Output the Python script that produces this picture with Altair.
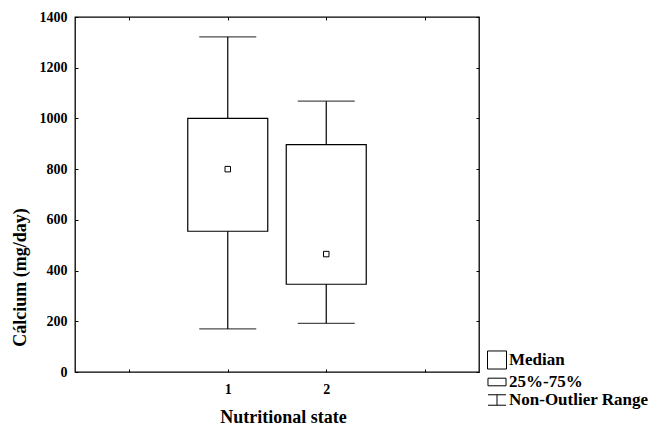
import json
import altair as alt
import pandas as pd

# ---- data ----
states = [1, 2]
whisker_low = [170, 192]
q1 = [555, 346]
median = [800, 465]
q3 = [1000, 897]
whisker_high = [1322, 1068]

legend_items = ["Median", "25%-75%", "Non-Outlier Range"]
y_ticks = [0, 200, 400, 600, 800, 1000, 1200, 1400]
x_ticks = [0, 1, 2, 3]
x_labels = ["1", "2"]

df = pd.DataFrame({
    "state": states,
    "low": whisker_low,
    "q1": q1,
    "median": median,
    "q3": q3,
    "high": whisker_high,
})
leg = pd.DataFrame({"item": legend_items})

FONT = "Liberation Serif"
xscale = alt.Scale(domain=[-0.5, 3.5], nice=False, zero=False)
yscale = alt.Scale(domain=[0, 1400], nice=False, zero=True)

common = dict(domain=False, grid=False, tickSize=3, tickColor="black",
              tickWidth=1, offset=-3)

label_expr = f"indexof({json.dumps(x_labels)}, datum.label) >= 0 ? datum.label : ''"

x_bottom = alt.Axis(values=x_ticks, labelExpr=label_expr, format="d",
                    title="Nutritional state",
                    labelFont=FONT, labelFontSize=14, labelFontWeight="bold",
                    labelColor="black", labelPadding=10, labelAngle=0,
                    titleFont=FONT, titleFontSize=18, titleFontWeight="bold",
                    titleColor="black", titleX=208, titleY=53,
                    titleBaseline="alphabetic", titleAlign="center", **common)
y_left = alt.Axis(values=y_ticks, title="Cálcium (mg/day)", format="d",
                  labelFont=FONT, labelFontSize=14, labelFontWeight="bold",
                  labelColor="black", labelPadding=8,
                  titleFont=FONT, titleFontSize=18, titleFontWeight="bold",
                  titleColor="black", titleAngle=270, titleX=-52.5, titleY=260,
                  titleBaseline="alphabetic", titleAlign="center", **common)
x_top = alt.Axis(orient="top", values=x_ticks, labels=False, title=None, **common)
y_right = alt.Axis(orient="right", values=y_ticks, labels=False, title=None, **common)

base = alt.Chart(df)

whiskers = base.mark_rule(color="black", strokeWidth=1.2).encode(
    x=alt.X("state:Q", scale=xscale, axis=x_top),
    y=alt.Y("low:Q", scale=yscale, axis=y_right),
    y2="high:Q",
)

boxes = base.mark_bar(size=80, fill="white", stroke="black", strokeWidth=1.2).encode(
    x=alt.X("state:Q", scale=xscale, axis=x_bottom),
    y=alt.Y("q1:Q", scale=yscale, axis=y_left),
    y2="q3:Q",
)

caps = base.transform_fold(["low", "high"], as_=["end", "val"]).mark_tick(
    orient="horizontal", size=57, thickness=1.2, color="black"
).encode(
    x=alt.X("state:Q", scale=xscale, axis=None),
    y=alt.Y("val:Q", scale=yscale, axis=None),
)

medians = base.mark_square(size=30, filled=True, fill="white", stroke="black",
                           strokeWidth=1, opacity=1).encode(
    x=alt.X("state:Q", scale=xscale, axis=None),
    y=alt.Y("median:Q", scale=yscale, axis=None),
)

paths = [
    "M-1,-0.95H1V0.95H-1Z",
    "M-0.95,-0.4H0.95V0.4H-0.95Z",
    "M-0.95,-0.55H0.95M0,-0.55V0.55M-0.95,0.55H0.95",
]

legend_layer = alt.Chart(leg).mark_point(opacity=0).encode(
    shape=alt.Shape("item:N", sort=legend_items,
                    scale=alt.Scale(domain=legend_items, range=paths),
                    legend=alt.Legend(
                        orient="none", legendX=412, legendY=333, padding=0,
                        title=None, symbolSize=361, symbolStrokeColor="black",
                        symbolFillColor="white", symbolStrokeWidth=1,
                        symbolOpacity=1, labelFont=FONT, labelFontSize=17,
                        labelFontWeight="bold", labelColor="black",
                        labelOffset=2, rowPadding=0)),
)

chart = alt.layer(whiskers, boxes, caps, medians, legend_layer).resolve_axis(
    x="independent", y="independent"
).properties(
    width=404, height=355,
    autosize=alt.AutoSizeParams(type="none"),
    padding={"left": 67, "top": 9, "right": 169, "bottom": 53},
    background="white",
).configure_view(stroke="black", strokeWidth=1.3)

chart.save("out.html", embed_options={"renderer": "svg", "actions": False})
